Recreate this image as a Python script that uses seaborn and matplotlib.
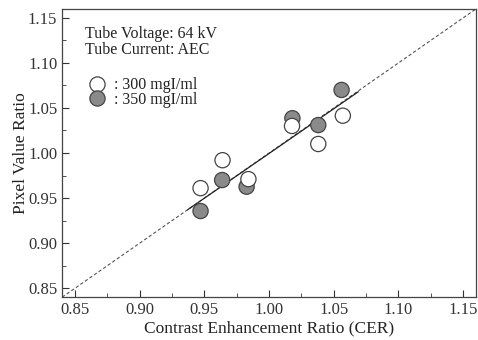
import matplotlib
matplotlib.use("Agg")
import matplotlib.pyplot as plt
from matplotlib.ticker import MultipleLocator
import seaborn as sns
import pandas as pd

# values
cer_300 = [0.947, 0.964, 0.984, 1.0177, 1.038, 1.057]
pvr_300 = [0.961, 0.992, 0.971, 1.030, 1.010, 1.0414]
cer_350 = [0.947, 0.9637, 0.9826, 1.018, 1.038, 1.056]
pvr_350 = [0.9356, 0.970, 0.9626, 1.0386, 1.031, 1.070]
fit_x = [0.937, 1.069]
fit_y = [0.937, 1.068]
ident = [0.84, 1.16]
ticks = [0.85, 0.90, 0.95, 1.00, 1.05, 1.10, 1.15]
labels = [": 300 mgI/ml", ": 350 mgI/ml"]

# 350 first so the open circles sit on top, as in the original
df = pd.DataFrame({
    "cer": cer_350 + cer_300,
    "pvr": pvr_350 + pvr_300,
    "conc": [labels[1]] * len(cer_350) + [labels[0]] * len(cer_300),
})

sns.set_style("ticks")
plt.rcParams["font.family"] = ["Liberation Serif", "DejaVu Serif"]
plt.rcParams["font.size"] = 11

fig = plt.figure(figsize=(4.78, 3.40), dpi=100)
ax = fig.add_axes([0.130, 0.126, 0.866, 0.848])

ax.plot(ident, ident, ls=(0, (3, 2)), color="#555555", lw=0.8, zorder=1)
ax.plot(fit_x, fit_y, color="#222222", lw=0.9, zorder=1)

sns.scatterplot(data=df, x="cer", y="pvr", hue="conc", hue_order=labels,
                palette={labels[0]: "white", labels[1]: "#8a8a8a"},
                s=120, edgecolor="#444444", linewidth=0.9, ax=ax, zorder=3)

ax.set_xlim(0.84, 1.16)
ax.set_ylim(0.84, 1.16)
ax.set_xticks(ticks)
ax.set_yticks(ticks)
ax.set_xticklabels([f"{t:.2f}" for t in ticks])
ax.set_yticklabels([f"{t:.2f}" for t in ticks])
ax.xaxis.set_minor_locator(MultipleLocator(0.025))
ax.yaxis.set_minor_locator(MultipleLocator(0.025))
ax.tick_params(axis="both", which="both", direction="in", top=False, right=False,
               labelsize=12, colors="#333333")
ax.tick_params(which="major", length=5)
ax.tick_params(which="minor", length=3)
for sp in ax.spines.values():
    sp.set_color("#444444")
    sp.set_linewidth(0.9)

ax.set_xlabel("Contrast Enhancement Ratio (CER)", fontsize=12.5, color="#222222", labelpad=2)
ax.set_ylabel("Pixel Value Ratio", fontsize=12.5, color="#222222", labelpad=-1)

ax.text(0.055, 0.94, "Tube Voltage: 64 kV\nTube Current: AEC", transform=ax.transAxes,
        fontsize=11.5, va="top", ha="left", linespacing=0.95, color="#222222")

leg = ax.legend(loc="upper left", bbox_to_anchor=(0.027, 0.79), frameon=False,
                handletextpad=0.05, labelspacing=-0.1, fontsize=11.5, borderpad=0)
for t in leg.get_texts():
    t.set_color("#222222")

fig.savefig("out.png", dpi=100)
